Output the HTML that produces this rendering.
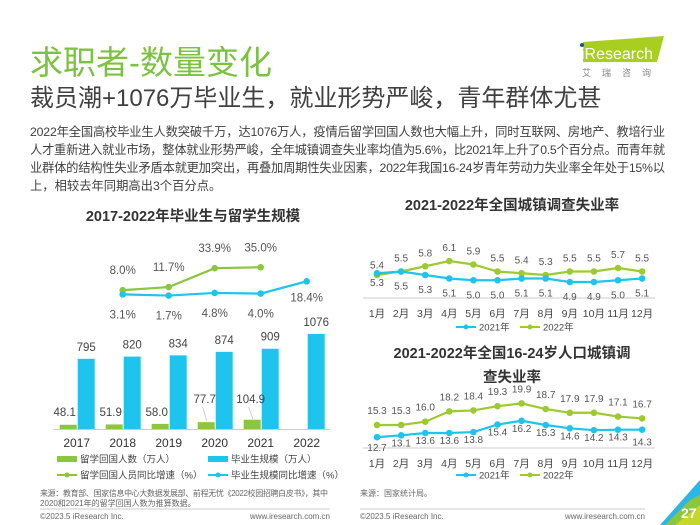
<!DOCTYPE html>
<html><head><meta charset="utf-8"><style>
body{margin:0;width:700px;height:525px;overflow:hidden;background:#fff;font-family:"Liberation Sans","Noto Sans CJK SC",sans-serif;}
svg{position:absolute;left:0;top:0}
</style></head><body>
<svg width="700" height="525" viewBox="0 0 700 525" font-family="Liberation Sans, Noto Sans CJK SC, sans-serif" id="s">
<text x="30" y="74" font-size="33" fill="#7cc242" font-family="Liberation Sans, Noto Sans CJK SC, sans-serif">求职者-数量变化</text>
<text x="30" y="106" font-size="24" fill="#404040">裁员潮+1076万毕业生，就业形势严峻，青年群体尤甚</text>
<g font-size="12.3" fill="#404040">
<text x="30" y="136" textLength="635">2022年全国高校毕业生人数突破千万，达1076万人，疫情后留学回国人数也大幅上升，同时互联网、房地产、教培行业</text>
<text x="30" y="154" textLength="635">人才重新进入就业市场，整体就业形势严峻，全年城镇调查失业率均值为5.6%，比2021年上升了0.5个百分点。而青年就</text>
<text x="30" y="172" textLength="635">业群体的结构性失业矛盾本就更加突出，再叠加周期性失业因素，2022年我国16-24岁青年劳动力失业率全年处于15%以</text>
<text x="30" y="190">上，相较去年同期高出3个百分点。</text>
</g>
<g>
<polygon points="583,42 664,36 657,62 583,62" fill="#a8cf1f"/>
<circle cx="582" cy="45" r="2" fill="#1f4e9a"/>
<text x="581" y="59" font-size="16" fill="#fff">iResearch</text>
<text x="582" y="76" font-size="9" fill="#888" letter-spacing="11">艾瑞咨询</text>
</g>
<text x="193" y="221" font-size="14.5" font-weight="bold" fill="#333" text-anchor="middle">2017-2022年毕业生与留学生规模</text>
<g id="left"></g>
<text x="512" y="210" font-size="14.5" font-weight="bold" fill="#333" text-anchor="middle">2021-2022年全国城镇调查失业率</text>
<text x="512" y="358" font-size="14.5" font-weight="bold" fill="#333" text-anchor="middle">2021-2022年全国16-24岁人口城镇调</text>
<text x="512" y="382" font-size="14.5" font-weight="bold" fill="#333" text-anchor="middle">查失业率</text>
<g id="r1"></g><g id="r2"></g>
<g font-size="8" fill="#666">
<text x="40" y="496" textLength="288">来源：教育部、国家信息中心大数据发展部、前程无忧《2022校园招聘白皮书》，其中</text>
<text x="40" y="506">2020和2021年的留学回国人数为推算数据。</text>
<line x1="40" y1="509" x2="330" y2="509" stroke="#999" stroke-width="0.6"/>
<text x="360" y="496">来源：国家统计局。</text>
<line x1="360" y1="509" x2="645" y2="509" stroke="#999" stroke-width="0.6"/>
<text x="40" y="519">©2023.5 iResearch Inc.</text>
<text x="330" y="519" text-anchor="end">www.iresearch.com.cn</text>
<text x="360" y="519">©2023.5 iResearch Inc.</text>
<text x="645" y="519" text-anchor="end">www.iresearch.com.cn</text>
</g>
<g>
<polygon points="700,480 700,525 660,525" fill="#2eb5e8"/>
<polygon points="700,495 700,525 665,525 690,500" fill="#8cc63f"/>
<polygon points="700,505 700,525 675,525" fill="#c5d82a"/>
<text x="681" y="518" font-size="14" font-weight="bold" fill="#fff">27</text>
</g>
</svg>
<script>
const years=["2017","2018","2019","2020","2021","2022"];
const gradCount=[795,820,834,874,909,1076];
const returnCount=[48.1,51.9,58.0,77.7,104.9,null];
const lineYears=["2018","2019","2020","2021","2022"];
const returnRate=[8.0,11.7,33.9,35.0,null];
const gradRate=[3.1,1.7,4.8,4.0,18.4];
const months=["1月","2月","3月","4月","5月","6月","7月","8月","9月","10月","11月","12月"];
const unemp2021=[5.4,5.5,5.3,5.1,5.0,5.0,5.1,5.1,4.9,4.9,5.0,5.1];
const unemp2022=[5.3,5.5,5.8,6.1,5.9,5.5,5.4,5.3,5.5,5.5,5.7,5.5];
const youth2021=[12.7,13.1,13.6,13.6,13.8,15.4,16.2,15.3,14.6,14.2,14.3,14.3];
const youth2022=[15.3,15.3,16.0,18.2,18.4,19.3,19.9,18.7,17.9,17.9,17.1,16.7];
const G="#8cc63f",B="#1ec4ee",NS="http://www.w3.org/2000/svg";
function mk(p,t,a,txt){const e=document.createElementNS(NS,t);for(const k in a)e.setAttribute(k,a[k]);if(txt!=null)e.textContent=txt;p.appendChild(e);return e;}
const L=document.getElementById('left');
const xc=i=>76.7+i*46, yBar=v=>429-v*0.0883, yRate=v=>297-v*0.85;
let ax=mk(L,'line',{x1:53,y1:429.5,x2:330,y2:429.5,stroke:'#ccc'});

years.forEach((y,i)=>{
 let t=mk(L,'text',{x:xc(i),y:447,'font-size':12,fill:'#333','text-anchor':'middle'},y);
 
 let b=mk(L,'rect',{x:xc(i)+1,y:yBar(gradCount[i]),width:17,height:429-yBar(gradCount[i]),fill:B});
 
 let bl=mk(L,'text',{x:xc(i)+9.5,y:yBar(gradCount[i])-8,'font-size':11.5,fill:'#444','text-anchor':'middle'},gradCount[i]);
 
 if(returnCount[i]!=null){
  let h=429-yBar(returnCount[i]);
  let g=mk(L,'rect',{x:xc(i)-17,y:429-h,width:17,height:h,fill:G});
  
  let lifted=returnCount[i]>70, ly=lifted?403:416;
  if(lifted){let ln=mk(L,'line',{x1:xc(i)-8,y1:429-h-1,x2:xc(i)-12,y2:ly+4,stroke:'#bbb','stroke-width':0.7});}
  let gl=mk(L,'text',{x:lifted?xc(i)-10:xc(i)-12,y:ly,'font-size':11.5,fill:'#444','text-anchor':'middle'},returnCount[i].toFixed(1));
  
 }
});
function series(P,vals,xf,yf,col,name,dy,fmt){
 let pts=[];vals.forEach((v,i)=>{if(v!=null)pts.push([xf(i),yf(v),v]);});
 let pl=mk(P,'polyline',{points:pts.map(p=>p[0]+','+p[1]).join(' '),fill:'none',stroke:col,'stroke-width':2.2});
 
 pts.forEach((p,k)=>{let c=mk(P,'circle',{cx:p[0],cy:p[1],r:3.3,fill:col});
  
  let d=typeof dy==='function'?dy(k,p[2]):dy;
  let t=mk(P,'text',{x:p[0],y:p[1]+d,'font-size':fmt?11.5:10,fill:'#555','text-anchor':'middle'},fmt?fmt(p[2]):p[2].toFixed(1));
  });
}
const lx=i=>xc(i+1);
series(L,returnRate,lx,yRate,G,'return-rate',-16,v=>v.toFixed(1)+'%');
series(L,gradRate,lx,yRate,B,'grad-rate',(k,v)=>k===4?20:24,v=>v.toFixed(1)+'%');
function legend(P,x,y,col,txt,type,name){
 let g=mk(P,'g',{});
 if(type==='bar')mk(g,'rect',{x:x,y:y-3,width:20,height:6,fill:col});
 else{mk(g,'line',{x1:x,y1:y,x2:x+20,y2:y,stroke:col,'stroke-width':2});mk(g,'circle',{cx:x+10,cy:y,r:2.5,fill:col});}
 mk(g,'text',{x:x+23,y:y+3.5,'font-size':9.5,fill:'#444'},txt);
}
legend(L,57,459,G,'留学回国人数（万人）','bar','legend-return-count');
legend(L,208,459,B,'毕业生规模（万人）','bar','legend-grad-count');
legend(L,57,475,G,'留学回国人员同比增速（%）','line','legend-return-rate');
legend(L,208,475,B,'毕业生规模同比增速（%）','line','legend-grad-rate');
function monthChart(P,axY,d21,d22,yf,off21,off22,pref,legY){
 const mx=i=>377+i*24.1;
 let a=mk(P,'line',{x1:363,y1:axY,x2:655,y2:axY,stroke:'#ccc'});
 months.forEach((m,i)=>{let t=mk(P,'text',{x:mx(i),y:axY+19,'font-size':10.5,fill:'#444','text-anchor':'middle'},m);});
 series(P,d22,mx,yf,'#9dca2f',pref+'-2022',off22);
 series(P,d21,mx,yf,B,pref+'-2021',off21);
 legend(P,456,legY,B,'2021年','line',pref+'-legend-2021');
 legend(P,520,legY,'#9dca2f','2022年','line',pref+'-legend-2022');
}
const y1=v=>275-(v-5.3)*17.5;
monthChart(document.getElementById('r1'),298,unemp2021,unemp2022,y1,(k)=>k===0?-5:18,(k)=>k===0?11:-10,'urban',327);
const y2=v=>425-(v-15.3)*4.7;
monthChart(document.getElementById('r2'),448,youth2021,youth2022,y2,(k)=>k===0?14:k===11?16:11,-11,'youth',475);
</script>
</body></html>
